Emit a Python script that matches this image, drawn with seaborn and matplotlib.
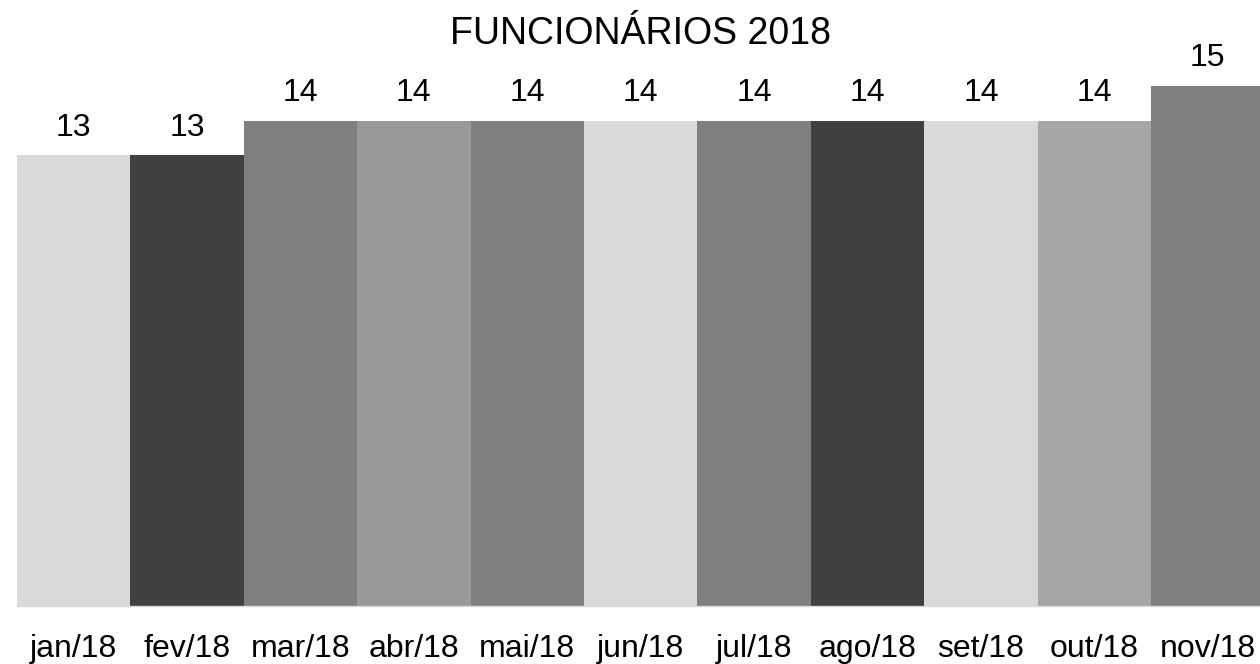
import matplotlib
matplotlib.use("Agg")
import matplotlib.pyplot as plt
import seaborn as sns
import pandas as pd

months = ["jan/18", "fev/18", "mar/18", "abr/18", "mai/18", "jun/18",
          "jul/18", "ago/18", "set/18", "out/18", "nov/18"]
values = [13, 13, 14, 14, 14, 14, 14, 14, 14, 14, 15]
colors = ["#d9d9d9", "#404040", "#7f7f7f", "#999999", "#7f7f7f", "#d9d9d9",
          "#7f7f7f", "#404040", "#d9d9d9", "#a6a6a6", "#7f7f7f"]
title = "FUNCIONÁRIOS 2018"

sns.set_theme(style="white")
plt.rcParams['font.family'] = ['Liberation Sans', 'DejaVu Sans']

df = pd.DataFrame({"mes": months, "valor": values})

fig = plt.figure(figsize=(12.6, 6.64), dpi=100)
ax = fig.add_axes([17/1260, 1 - 606/664, 1247.5/1260, (606 - 86)/664])
sns.barplot(data=df, x="mes", y="valor", hue="mes", palette=colors,
            width=1.0, legend=False, ax=ax, saturation=1, linewidth=0)
ax.set_xlim(-0.5, len(months) - 0.5)
ax.set_ylim(0, 15)
for c in ax.containers:
    ax.bar_label(c, padding=9, fontsize=23, color="#000000", clip_on=False)
ax.set_xlabel("")
ax.set_ylabel("")
ax.set_yticks([])
ax.tick_params(axis="x", length=0, pad=20, labelsize=23, colors="#000000")
for s in ["top", "left", "right"]:
    ax.spines[s].set_visible(False)
ax.spines["bottom"].set_color("#d9d9d9")
ax.spines["bottom"].set_linewidth(1)
fig.text(640/1260, 1 - 34/664, title, ha="center", va="center", fontsize=27, color="#000000")
fig.savefig("out.png", dpi=100)
